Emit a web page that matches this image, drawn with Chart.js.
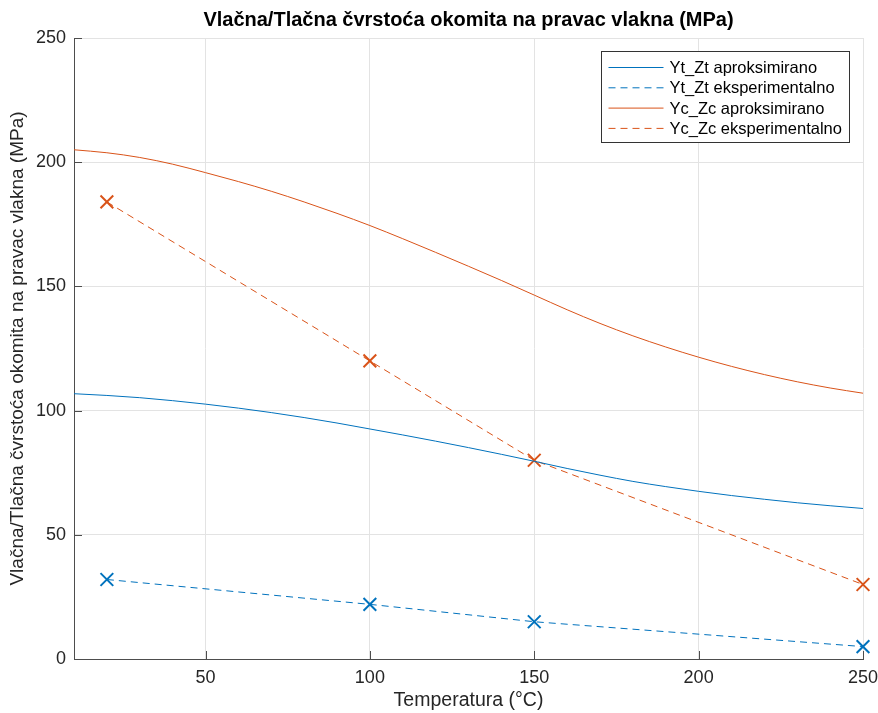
<!DOCTYPE html>
<html>
<head>
<meta charset="utf-8">
<title>Vlačna/Tlačna čvrstoća</title>
<script src="https://cdn.jsdelivr.net/npm/chart.js@4"></script>
<style>
  html, body { margin: 0; padding: 0; background: #fff; }
  #wrap { width: 878px; height: 713px; }
</style>
</head>
<body>
<div id="wrap"><canvas id="chart" width="878" height="713"></canvas></div>
<script>
// data
const tempFine = [10, 20, 30, 40, 50, 60, 70, 80, 90, 100, 110, 120, 130, 140, 150, 160, 170, 180, 190, 200, 210, 220, 230, 240, 250];
const ytApprox = [106.8, 106.1, 105.2, 104.0, 102.6, 101.0, 99.2, 97.2, 95.0, 92.6, 90.2, 87.7, 85.1, 82.4, 79.6, 76.7, 74.0, 71.5, 69.4, 67.5, 65.8, 64.3, 62.9, 61.7, 60.6];
const ycApprox = [205, 203.8, 201.9, 199.2, 195.8, 192.2, 188.3, 184.0, 179.4, 174.5, 169.2, 163.7, 158.1, 152.4, 146.5, 140.6, 135.1, 130.1, 125.6, 121.5, 117.8, 114.5, 111.6, 109.1, 107];

const tempExp = [20, 100, 150, 250];
const ytExp = [32, 22, 15, 5];
const ycExp = [184, 120, 80, 30];

const xTicks = [50, 100, 150, 200, 250];
const yTicks = [0, 50, 100, 150, 200, 250];

const seriesLabels = ['Yt_Zt aproksimirano', 'Yt_Zt eksperimentalno', 'Yc_Zc aproksimirano', 'Yc_Zc eksperimentalno'];
const titleText = 'Vlačna/Tlačna čvrstoća okomita na pravac vlakna (MPa)';

const BLUE = '#0072BD';
const ORANGE = '#D95319';
const FONT = '"Liberation Sans", Arial, Helvetica, sans-serif';
const TXT = '#262626';

const toXY = (xs, ys) => xs.map((x, i) => ({ x: x, y: ys[i] }));

// inward tick marks, MATLAB style
const innerTicks = {
  id: 'innerTicks',
  afterDatasetsDraw(chart) {
    const { ctx, chartArea: a, scales } = chart;
    ctx.save();
    ctx.strokeStyle = '#4d4d4d';
    ctx.lineWidth = 1;
    ctx.beginPath();
    xTicks.forEach(v => {
      const px = Math.round(scales.x.getPixelForValue(v)) + 0.5;
      ctx.moveTo(px, a.bottom);
      ctx.lineTo(px, a.bottom - 8);
    });
    yTicks.forEach(v => {
      const py = Math.round(scales.y.getPixelForValue(v)) + 0.5;
      ctx.moveTo(a.left, py);
      ctx.lineTo(a.left + 8, py);
    });
    ctx.stroke();
    ctx.restore();
  }
};

// title + legend box drawn inside the axes
const overlay = {
  id: 'overlay',
  afterDraw(chart) {
    const { ctx, chartArea: a } = chart;
    ctx.save();
    ctx.fillStyle = '#000';
    ctx.font = 'bold 20px ' + FONT;
    ctx.textAlign = 'center';
    ctx.textBaseline = 'middle';
    ctx.fillText(titleText, (a.left + a.right) / 2, 20);

    const w = 248, h = 91;
    const bx = Math.round(a.right - 14 - w) + 0.5;
    const by = Math.round(a.top + 13) + 0.5;
    ctx.fillStyle = '#fff';
    ctx.fillRect(bx, by, w, h);
    ctx.strokeStyle = '#333';
    ctx.lineWidth = 1;
    ctx.strokeRect(bx, by, w, h);

    ctx.font = '16.5px ' + FONT;
    ctx.textAlign = 'left';
    chart.data.datasets.forEach((ds, i) => {
      const y = by + 16 + i * 20.3;
      ctx.strokeStyle = ds.borderColor;
      ctx.lineWidth = 1;
      ctx.setLineDash(ds.borderDash || []);
      ctx.beginPath();
      ctx.moveTo(bx + 7, y);
      ctx.lineTo(bx + 62, y);
      ctx.stroke();
      ctx.setLineDash([]);
      ctx.fillStyle = '#000';
      ctx.fillText(ds.label, bx + 68, y + 1);
    });
    ctx.restore();
  }
};

new Chart(document.getElementById('chart'), {
  type: 'line',
  data: {
    datasets: [
      {
        label: seriesLabels[0],
        data: toXY(tempFine, ytApprox),
        borderColor: BLUE,
        borderWidth: 1,
        pointRadius: 0,
        cubicInterpolationMode: 'monotone'
      },
      {
        label: seriesLabels[1],
        data: toXY(tempExp, ytExp),
        borderColor: BLUE,
        borderWidth: 1,
        borderDash: [7, 5],
        pointStyle: 'crossRot',
        pointRadius: 9,
        pointBorderWidth: 2,
        pointBorderColor: BLUE,
        tension: 0,
        clip: false
      },
      {
        label: seriesLabels[2],
        data: toXY(tempFine, ycApprox),
        borderColor: ORANGE,
        borderWidth: 1,
        pointRadius: 0,
        cubicInterpolationMode: 'monotone'
      },
      {
        label: seriesLabels[3],
        data: toXY(tempExp, ycExp),
        borderColor: ORANGE,
        borderWidth: 1,
        borderDash: [7, 5],
        pointStyle: 'crossRot',
        pointRadius: 9,
        pointBorderWidth: 2,
        pointBorderColor: ORANGE,
        tension: 0,
        clip: false
      }
    ]
  },
  options: {
    responsive: false,
    animation: false,
    layout: { padding: { top: 38, right: 0, left: 0, bottom: 0 } },
    plugins: {
      legend: { display: false },
      title: { display: false },
      tooltip: { enabled: false }
    },
    scales: {
      x: {
        type: 'linear',
        min: 10,
        max: 250,
        afterBuildTicks: s => { s.ticks = xTicks.map(v => ({ value: v })); },
        afterFit: s => { s.height = 54; s.paddingRight = 15; s.paddingLeft = 0; },
        grid: { color: '#e3e3e3', drawTicks: false },
        border: { color: '#4d4d4d' },
        ticks: { color: TXT, font: { family: FONT, size: 18 }, padding: 8, maxRotation: 0 },
        title: { display: true, text: 'Temperatura (°C)', color: TXT, font: { family: FONT, size: 19.5 }, padding: { top: 0, bottom: 1 } }
      },
      y: {
        min: 0,
        max: 250,
        afterBuildTicks: s => { s.ticks = yTicks.map(v => ({ value: v })); },
        afterFit: s => { s.width = 74; },
        grid: { color: '#e3e3e3', drawTicks: false },
        border: { color: '#4d4d4d' },
        ticks: { color: TXT, font: { family: FONT, size: 18 }, padding: 8 },
        title: { display: true, text: titleText, color: TXT, font: { family: FONT, size: 19 }, padding: { top: 6, bottom: 0 } }
      }
    }
  },
  plugins: [innerTicks, overlay]
});
</script>
</body>
</html>
